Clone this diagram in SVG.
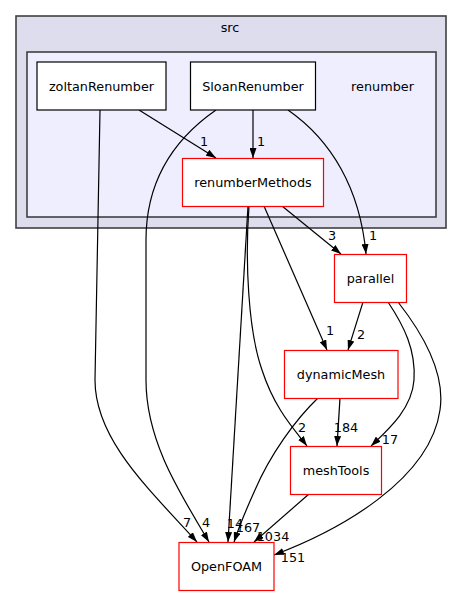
<svg xmlns="http://www.w3.org/2000/svg" width="463" height="596" viewBox="0 0 463 596">
<style>
text{font-family:"DejaVu Sans",sans-serif;font-size:12.8px;fill:#000;text-anchor:middle}
.cl{stroke:#404040;stroke-width:1.6}
.n{fill:#fff;stroke:#000;stroke-width:1.2}
.r{fill:#fff;stroke:#ff0000;stroke-width:1.2}
.e{fill:none;stroke:#000;stroke-width:1.2;marker-end:url(#ah)}
</style>
<defs>
<marker id="ah" viewBox="0 0 10 7" refX="10" refY="3.5" markerWidth="10" markerHeight="7" markerUnits="userSpaceOnUse" orient="auto">
<path d="M0,0 L10,3.5 L0,7 z" fill="#000"/>
</marker>
</defs>
<g id="cluster_src">
<rect class="cl" x="16" y="16" width="430" height="212" fill="#ddddee"/>
<text x="230" y="32">src</text>
</g>
<g id="cluster_renumber">
<rect class="cl" x="27" y="52" width="409" height="165" fill="#eeeeff"/>
<text x="382.5" y="91">renumber</text>
</g>
<g id="connectors">
<path class="e" d="M139,110 L216,158"/>
<text x="204" y="146">1</text>
<path class="e" d="M253,110 L253,158"/>
<text x="261" y="146">1</text>
<path class="e" d="M288,110 C331,140 360,188 366,254"/>
<text x="373" y="240">1</text>
<path class="e" d="M216,110 C180,135 146,175 146,240 L146,380 C146,440 178,490 209,542"/>
<text x="206" y="527">4</text>
<path class="e" d="M100,110 L95,380 C95,440 150,490 197,542"/>
<text x="187" y="527">7</text>
<path class="e" d="M282,206 L341,254"/>
<text x="332" y="240">3</text>
<path class="e" d="M264,206 L327,350"/>
<text x="330" y="335">1</text>
<path class="e" d="M249,206 C245,260 248,330 262,370 C275,410 295,430 307,446"/>
<text x="302" y="432">2</text>
<path class="e" d="M248,206 L228,542"/>
<text x="235" y="528">14</text>
<path class="e" d="M363,302 L348,350"/>
<text x="361" y="339">2</text>
<path class="e" d="M388,302 C404,326 416,350 414,380 C412,408 390,428 371,446"/>
<text x="390" y="444">17</text>
<path class="e" d="M398,302 C420,330 446,370 440,410 C430,480 340,530 274,555"/>
<text x="293" y="562">151</text>
<path class="e" d="M340,398 L337,446"/>
<text x="346" y="432">184</text>
<path class="e" d="M318,398 C295,420 270,455 255,490 C245,512 238,530 234,542"/>
<text x="248" y="532">167</text>
<path class="e" d="M309,494 L254,542"/>
<text x="273" y="541">1034</text>
</g>
<g id="zoltanRenumber">
<rect class="n" x="37" y="62" width="129" height="48"/>
<text x="101.5" y="91">zoltanRenumber</text>
</g>
<g id="SloanRenumber">
<rect class="n" x="190.5" y="62" width="125" height="48"/>
<text x="253" y="91">SloanRenumber</text>
</g>
<g id="renumberMethods">
<rect class="r" x="182.5" y="158.5" width="141" height="48"/>
<text x="253" y="187">renumberMethods</text>
</g>
<g id="parallel">
<rect class="r" x="334.5" y="254.5" width="72" height="48"/>
<text x="370.5" y="283">parallel</text>
</g>
<g id="dynamicMesh">
<rect class="r" x="284.5" y="350.5" width="113.5" height="48"/>
<text x="341" y="379">dynamicMesh</text>
</g>
<g id="meshTools">
<rect class="r" x="290.5" y="446.5" width="91" height="48"/>
<text x="336" y="475">meshTools</text>
</g>
<g id="OpenFOAM">
<rect class="r" x="179" y="542.5" width="95" height="48"/>
<text x="226.5" y="571">OpenFOAM</text>
</g>
</svg>
